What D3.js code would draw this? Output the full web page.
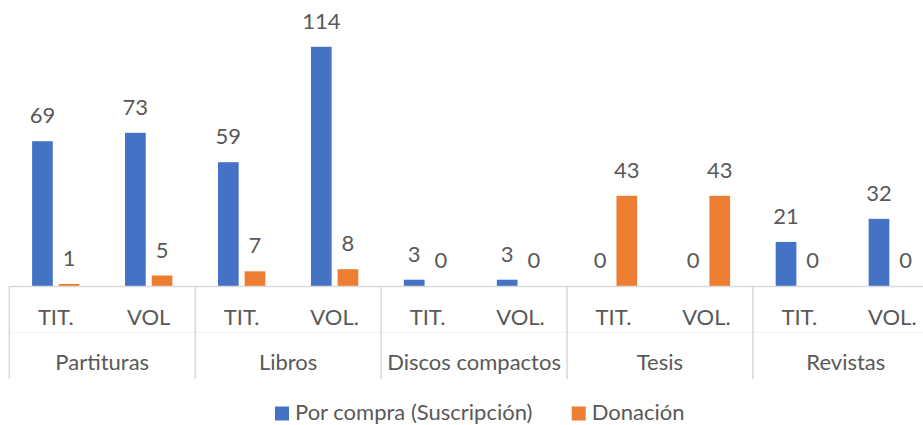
<!DOCTYPE html>
<html>
<head>
<meta charset="utf-8">
<script src="https://cdn.jsdelivr.net/npm/d3@7"></script>
<style>
  html, body { margin: 0; padding: 0; background: #fff; }
  svg { display: block; }
  text { font-family: Lato, "Open Sans", sans-serif; fill: #595959; }
</style>
</head>
<body>
<svg id="chart" width="923" height="425"></svg>
<script>
// Grouped categories and their two sub-columns
const groups = ["Partituras", "Libros", "Discos compactos", "Tesis", "Revistas"];
const subLabels = [
  ["TIT.", "VOL"],
  ["TIT.", "VOL."],
  ["TIT.", "VOL."],
  ["TIT.", "VOL."],
  ["TIT.", "VOL."]
];
const seriesNames = ["Por compra (Suscripción)", "Donación"];
const seriesColors = ["#4472C4", "#ED7D31"];
// Values in the order TIT., VOL for each group
const porCompra = [69, 73, 59, 114, 3, 3, 0, 0, 21, 32];
const donacion  = [1, 5, 7, 8, 0, 0, 43, 43, 0, 0];

const W = 923, H = 425;
const plotLeft = 9.3, plotRight = 938.8;
const baseY = 286, topY = 34.2;
const axisBottom = 379;
const fontSize = 22;

const svg = d3.select("#chart");

// One band per sub-column
const cells = [];
groups.forEach((g, gi) => subLabels[gi].forEach((s, si) => cells.push({ g, gi, s, key: gi + "-" + si })));
cells.forEach((c, i) => { c.values = [porCompra[i], donacion[i]]; });

const x0 = d3.scaleBand().domain(cells.map(c => c.key)).range([plotLeft, plotRight]).padding(0);
const x1 = d3.scaleBand().domain(seriesNames).range([0, x0.bandwidth()])
  .paddingInner(0.225).paddingOuter(0.854);
const xg = d3.scaleBand().domain(groups).range([plotLeft, plotRight]).padding(0);
const y = d3.scaleLinear().domain([0, 120]).range([baseY, topY]);

// Bars
const cellG = svg.append("g").selectAll("g").data(cells).join("g")
  .attr("transform", d => `translate(${x0(d.key)},0)`);

cellG.selectAll("rect").data(d => d.values.map((v, k) => ({ v, k })))
  .join("rect")
  .attr("x", d => x1(seriesNames[d.k]))
  .attr("width", x1.bandwidth())
  .attr("y", d => y(d.v))
  .attr("height", d => baseY - y(d.v))
  .attr("fill", d => seriesColors[d.k]);

// Value labels
cellG.selectAll("text.val").data(d => d.values.map((v, k) => ({ v, k })))
  .join("text")
  .attr("class", "val")
  .attr("x", d => x1(seriesNames[d.k]) + x1.bandwidth() / 2)
  .attr("y", d => y(d.v) - 18)
  .attr("text-anchor", "middle")
  .style("font-size", fontSize + "px")
  .text(d => d.v);

// Category axis: baseline, divider between levels and group separators
const axisG = svg.append("g");
axisG.append("line")
  .attr("x1", plotLeft).attr("x2", plotRight)
  .attr("y1", baseY + 0.5).attr("y2", baseY + 0.5)
  .attr("stroke", "#D9D9D9").attr("stroke-width", 1.5);
axisG.append("line")
  .attr("x1", plotLeft).attr("x2", plotRight)
  .attr("y1", 332.5).attr("y2", 332.5)
  .attr("stroke", "#F4F4F4").attr("stroke-width", 1);
const seps = groups.map(g => xg(g)).concat([plotRight]);
axisG.selectAll("line.sep").data(seps).join("line")
  .attr("class", "sep")
  .attr("x1", d => d).attr("x2", d => d)
  .attr("y1", baseY).attr("y2", axisBottom)
  .attr("stroke", "#D9D9D9").attr("stroke-width", 1.5);

// Sub-column labels
axisG.selectAll("text.sub").data(cells).join("text")
  .attr("class", "sub")
  .attr("x", d => x0(d.key) + x0.bandwidth() / 2)
  .attr("y", 325)
  .attr("text-anchor", "middle")
  .style("font-size", fontSize + "px")
  .text(d => d.s);

// Group labels
axisG.selectAll("text.grp").data(groups).join("text")
  .attr("class", "grp")
  .attr("x", d => xg(d) + xg.bandwidth() / 2)
  .attr("y", 370)
  .attr("text-anchor", "middle")
  .style("font-size", fontSize + "px")
  .text(d => d);

// Legend
const legendX = [275, 571.7];
const legend = svg.append("g").selectAll("g").data(seriesNames).join("g")
  .attr("transform", (d, i) => `translate(${legendX[i]},406.5)`);
legend.append("rect").attr("width", 14).attr("height", 14)
  .attr("fill", (d, i) => seriesColors[i]);
legend.append("text").attr("x", 20).attr("y", 13.5)
  .style("font-size", fontSize + "px")
  .text(d => d);
</script>
</body>
</html>
